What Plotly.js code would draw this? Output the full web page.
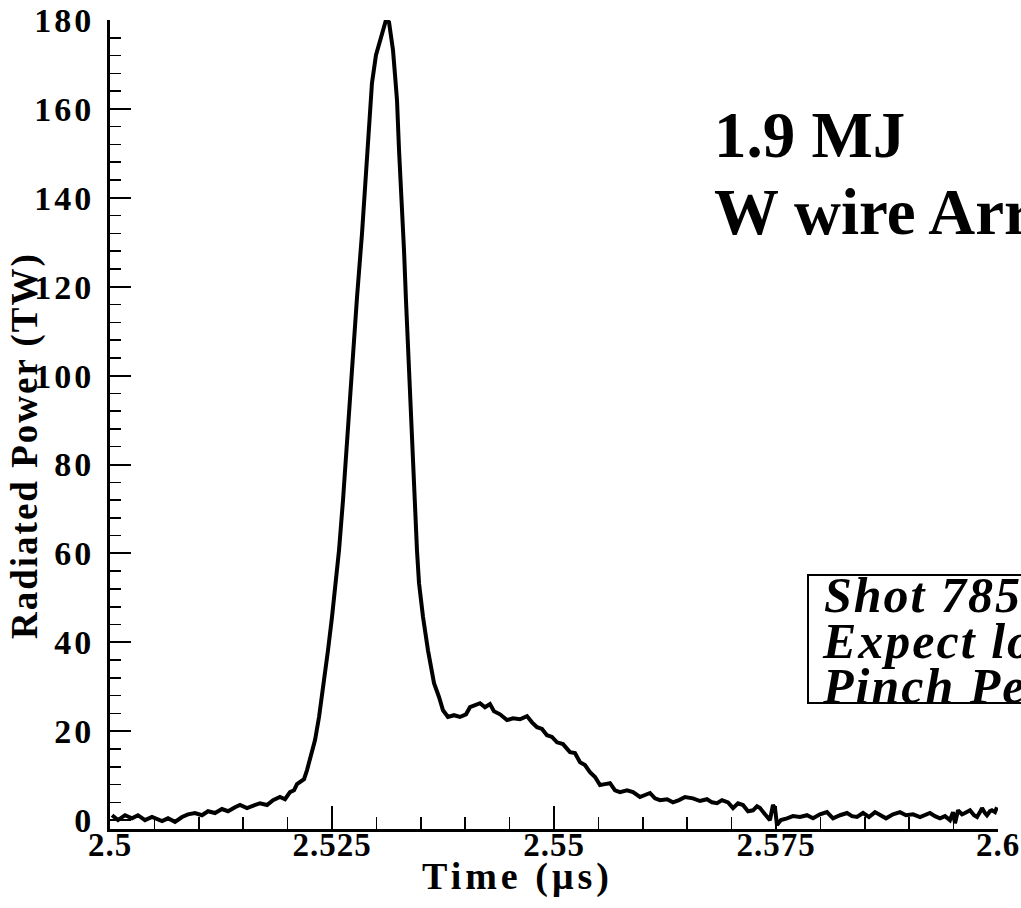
<!DOCTYPE html>
<html>
<head>
<meta charset="utf-8">
<script src="https://cdn.plot.ly/plotly-3.0.1.min.js"></script>
<style>
  html, body { margin: 0; padding: 0; background: #fff; }
  #chart { width: 1021px; height: 908px; }
  g.ytick text { letter-spacing: 3px; }
  g.xtick text { letter-spacing: 1px; }
  g.annotation[data-index="0"] text { letter-spacing: 4px; }
  g.annotation[data-index="1"] text { letter-spacing: 2px; }
  g.annotation[data-index="4"] text,
  g.annotation[data-index="5"] text,
  g.annotation[data-index="6"] text { letter-spacing: 2px; }
</style>
</head>
<body>
<div id="chart"></div>
<script>
// Time (µs)
const time = [
  2.50023, 2.5009, 2.50169, 2.50248, 2.50315, 2.50394, 2.50473, 2.50586, 2.50653, 2.50732,
  2.50811, 2.50878, 2.50957, 2.51036, 2.51104, 2.51182, 2.51261, 2.51329, 2.51408, 2.51464,
  2.51543, 2.5161, 2.51689, 2.51768, 2.51836, 2.51914, 2.51971, 2.52027, 2.52072, 2.52106,
  2.52151, 2.52185, 2.52218, 2.52241, 2.52275, 2.52309, 2.52354, 2.5241, 2.52455, 2.525,
  2.52545, 2.52579, 2.52624, 2.52669, 2.52725, 2.52782, 2.52838, 2.52894, 2.5295, 2.52995,
  2.5304, 2.53074, 2.53108, 2.53142, 2.53164, 2.53187, 2.53209, 2.53232, 2.53255, 2.53288,
  2.53311, 2.53333, 2.53356, 2.5339, 2.53423, 2.53457, 2.5348, 2.53525, 2.53581, 2.53649,
  2.53705, 2.5375, 2.53806, 2.53874, 2.53941, 2.54009, 2.54054, 2.5411, 2.54167, 2.54223,
  2.54279, 2.54324, 2.54392, 2.54471, 2.54538, 2.54617, 2.54696, 2.54752, 2.54809, 2.54865,
  2.54921, 2.54977, 2.55034, 2.55101, 2.5518, 2.55236, 2.55293, 2.55349, 2.55405, 2.55462,
  2.55518, 2.55574, 2.55631, 2.55687, 2.55743, 2.55822, 2.5589, 2.55968, 2.56025, 2.56081,
  2.56137, 2.56194, 2.56273, 2.5634, 2.56408, 2.56475, 2.56565, 2.56644, 2.56723, 2.56779,
  2.56836, 2.56892, 2.5696, 2.57016, 2.57072, 2.57128, 2.57185, 2.57241, 2.57286, 2.5732,
  2.57376, 2.57432, 2.57466, 2.57489, 2.57511, 2.57556, 2.57624, 2.57691, 2.5777, 2.57849,
  2.57917, 2.57995, 2.58074, 2.58142, 2.58221, 2.583, 2.58356, 2.58412, 2.5848, 2.58547,
  2.58615, 2.58671, 2.58739, 2.58818, 2.58896, 2.58964, 2.59043, 2.59122, 2.59178, 2.59234,
  2.5929, 2.59347, 2.59403, 2.59459, 2.59493, 2.59516, 2.5955, 2.59595, 2.59628, 2.59685,
  2.5973, 2.59764, 2.59797, 2.5982, 2.59854, 2.59876, 2.5991, 2.59932, 2.59966, 2.59989
];
// Radiated power (TW)
const power = [
  1.1, 0, 1.1, 0.4, 1.1, 0, 0.7, -0.2, 0.4, -0.4,
  0.7, 1.3, 1.6, 1.1, 2.0, 1.6, 2.5, 2.0, 2.9, 3.4,
  2.7, 3.1, 3.8, 3.4, 4.5, 5.2, 4.7, 6.3, 6.7, 8.1,
  8.8, 9.2, 11.2, 12.8, 15.1, 18, 23.2, 30.8, 38.2, 45.7,
  53.3, 60.7, 72, 85.5, 103.5, 117.7, 132, 150.7, 165.8, 172.1,
  175.5, 177.3, 180, 179.5, 176.8, 173.2, 167.8, 162, 150.7, 139.5,
  128.2, 117, 105.7, 90, 74.2, 60.7, 53.3, 45.7, 38.2, 30.8,
  27.7, 24.7, 23.2, 23.6, 23.2, 23.8, 25.4, 25.9, 26.3, 25.4,
  26.1, 24.5, 23.8, 22.5, 22.9, 22.7, 23.4, 22, 20.9, 20.5,
  19.1, 18.7, 17.5, 17.1, 15.3, 15.1, 13, 12.4, 10.8, 9.7,
  7.9, 8.1, 8.3, 6.7, 6.3, 6.7, 6.3, 5.2, 5.6, 6.1,
  4.9, 4.5, 4.7, 4.0, 4.5, 5.2, 4.9, 4.3, 4.7, 4.0,
  3.8, 4.5, 4.0, 2.7, 3.8, 3.4, 2.0, 2.2, 3.1, 2.7,
  1.3, 0, 3.4, 2.7, -1.1, 0, 0.4, 0.9, 0.7, 1.1,
  0.4, 1.3, 1.8, 0.4, 1.1, 1.6, 0.9, 0.7, 1.6, 0.7,
  1.8, 1.1, 0.4, 1.3, 1.8, 1.1, 1.3, 0.7, 1.1, 1.6,
  0.9, 0.4, 0.9, 0, 1.8, -0.7, 2.2, 1.3, 1.6, 2.2,
  1.1, 0.7, 1.8, 2.7, 1.6, 1.1, 2.0, 2.2, 1.8, 2.9
];

const xTickVals = [2.5, 2.525, 2.55, 2.575, 2.6];
const xTickText = ["2.5", "2.525", "2.55", "2.575", "2.6"];
const yTickVals = [0, 20, 40, 60, 80, 100, 120, 140, 160, 180];
const yTickText = ["0", "20", "40", "60", "80", "100", "120", "140", "160", "180"];

const xTitle = "Time (μs)";
const yTitle = "Radiated Power (TW)";
const titleLines = ["1.9 MJ", "W wire Array"];
const boxLines = ["Shot 785", "Expect low", "Pinch Peak"];

const serif = "Liberation Serif, Times New Roman, Times, serif";

// layout helpers (paper coordinates from pixel positions)
const L = 110, R = 998, T = 20, B = 829;
const px = x => (x - L) / (R - L);
const py = y => (B - y) / (B - T);

const trace = {
  x: time, y: power, type: "scatter", mode: "lines",
  line: { color: "black", width: 4 },
  hoverinfo: "skip", showlegend: false
};

const annotations = [
  { text: xTitle, x: px(517), y: py(876), xref: "paper", yref: "paper",
    xanchor: "center", yanchor: "middle", showarrow: false,
    font: { family: serif, size: 38, weight: "bold", color: "black" } },
  { text: yTitle, x: px(25), y: py(446), xref: "paper", yref: "paper", textangle: -90,
    xanchor: "center", yanchor: "middle", showarrow: false,
    font: { family: serif, size: 37, weight: "bold", color: "black" } },
  { text: titleLines[0], x: px(712), y: py(135), xref: "paper", yref: "paper",
    xanchor: "left", yanchor: "middle", showarrow: false,
    font: { family: serif, size: 65, weight: "bold", color: "black" } },
  { text: titleLines[1], x: px(712), y: py(212), xref: "paper", yref: "paper",
    xanchor: "left", yanchor: "middle", showarrow: false,
    font: { family: serif, size: 65, weight: "bold", color: "black" } }
];
const boxY = [595, 641, 686];
boxLines.forEach((t, i) => annotations.push({
  text: t, x: px(830), y: py(boxY[i]), xref: "paper", yref: "paper",
  xanchor: "left", yanchor: "middle", showarrow: false,
  font: { family: serif, size: 50, weight: "bold", style: "italic", color: "black" }
}));

const layout = {
  width: 1021, height: 908,
  margin: { l: L, r: 1021 - R, t: T, b: 908 - B, pad: 0 },
  paper_bgcolor: "white", plot_bgcolor: "white",
  showlegend: false,
  xaxis: {
    range: [2.5, 2.6], tickmode: "array", tickvals: xTickVals, ticktext: xTickText,
    ticks: "inside", ticklen: 23, tickwidth: 2, tickcolor: "black",
    minor: { ticks: "inside", tick0: 2.5, dtick: 0.005, ticklen: 12, tickwidth: 1.5, tickcolor: "black" },
    showline: true, linewidth: 3, linecolor: "black", showgrid: false, zeroline: false,
    tickfont: { family: serif, size: 33, weight: "bold", color: "black" },
    ticklabelstandoff: -16,
    automargin: false
  },
  yaxis: {
    range: [-2, 180], tickmode: "array", tickvals: yTickVals, ticktext: yTickText,
    ticks: "inside", ticklen: 21, tickwidth: 2, tickcolor: "black",
    minor: { ticks: "inside", tick0: 0, dtick: 4, ticklen: 11, tickwidth: 1.5, tickcolor: "black" },
    showline: true, linewidth: 3, linecolor: "black", showgrid: false, zeroline: false,
    tickfont: { family: serif, size: 34, weight: "bold", color: "black" },
    ticklabelstandoff: 6,
    automargin: false
  },
  shapes: [
    { type: "rect", xref: "paper", yref: "paper",
      x0: px(808), x1: px(1060), y0: py(703), y1: py(575),
      line: { color: "black", width: 2 }, fillcolor: "rgba(0,0,0,0)" }
  ],
  annotations: annotations
};

Plotly.newPlot("chart", [trace], layout, { staticPlot: true, displayModeBar: false });
</script>
</body>
</html>
